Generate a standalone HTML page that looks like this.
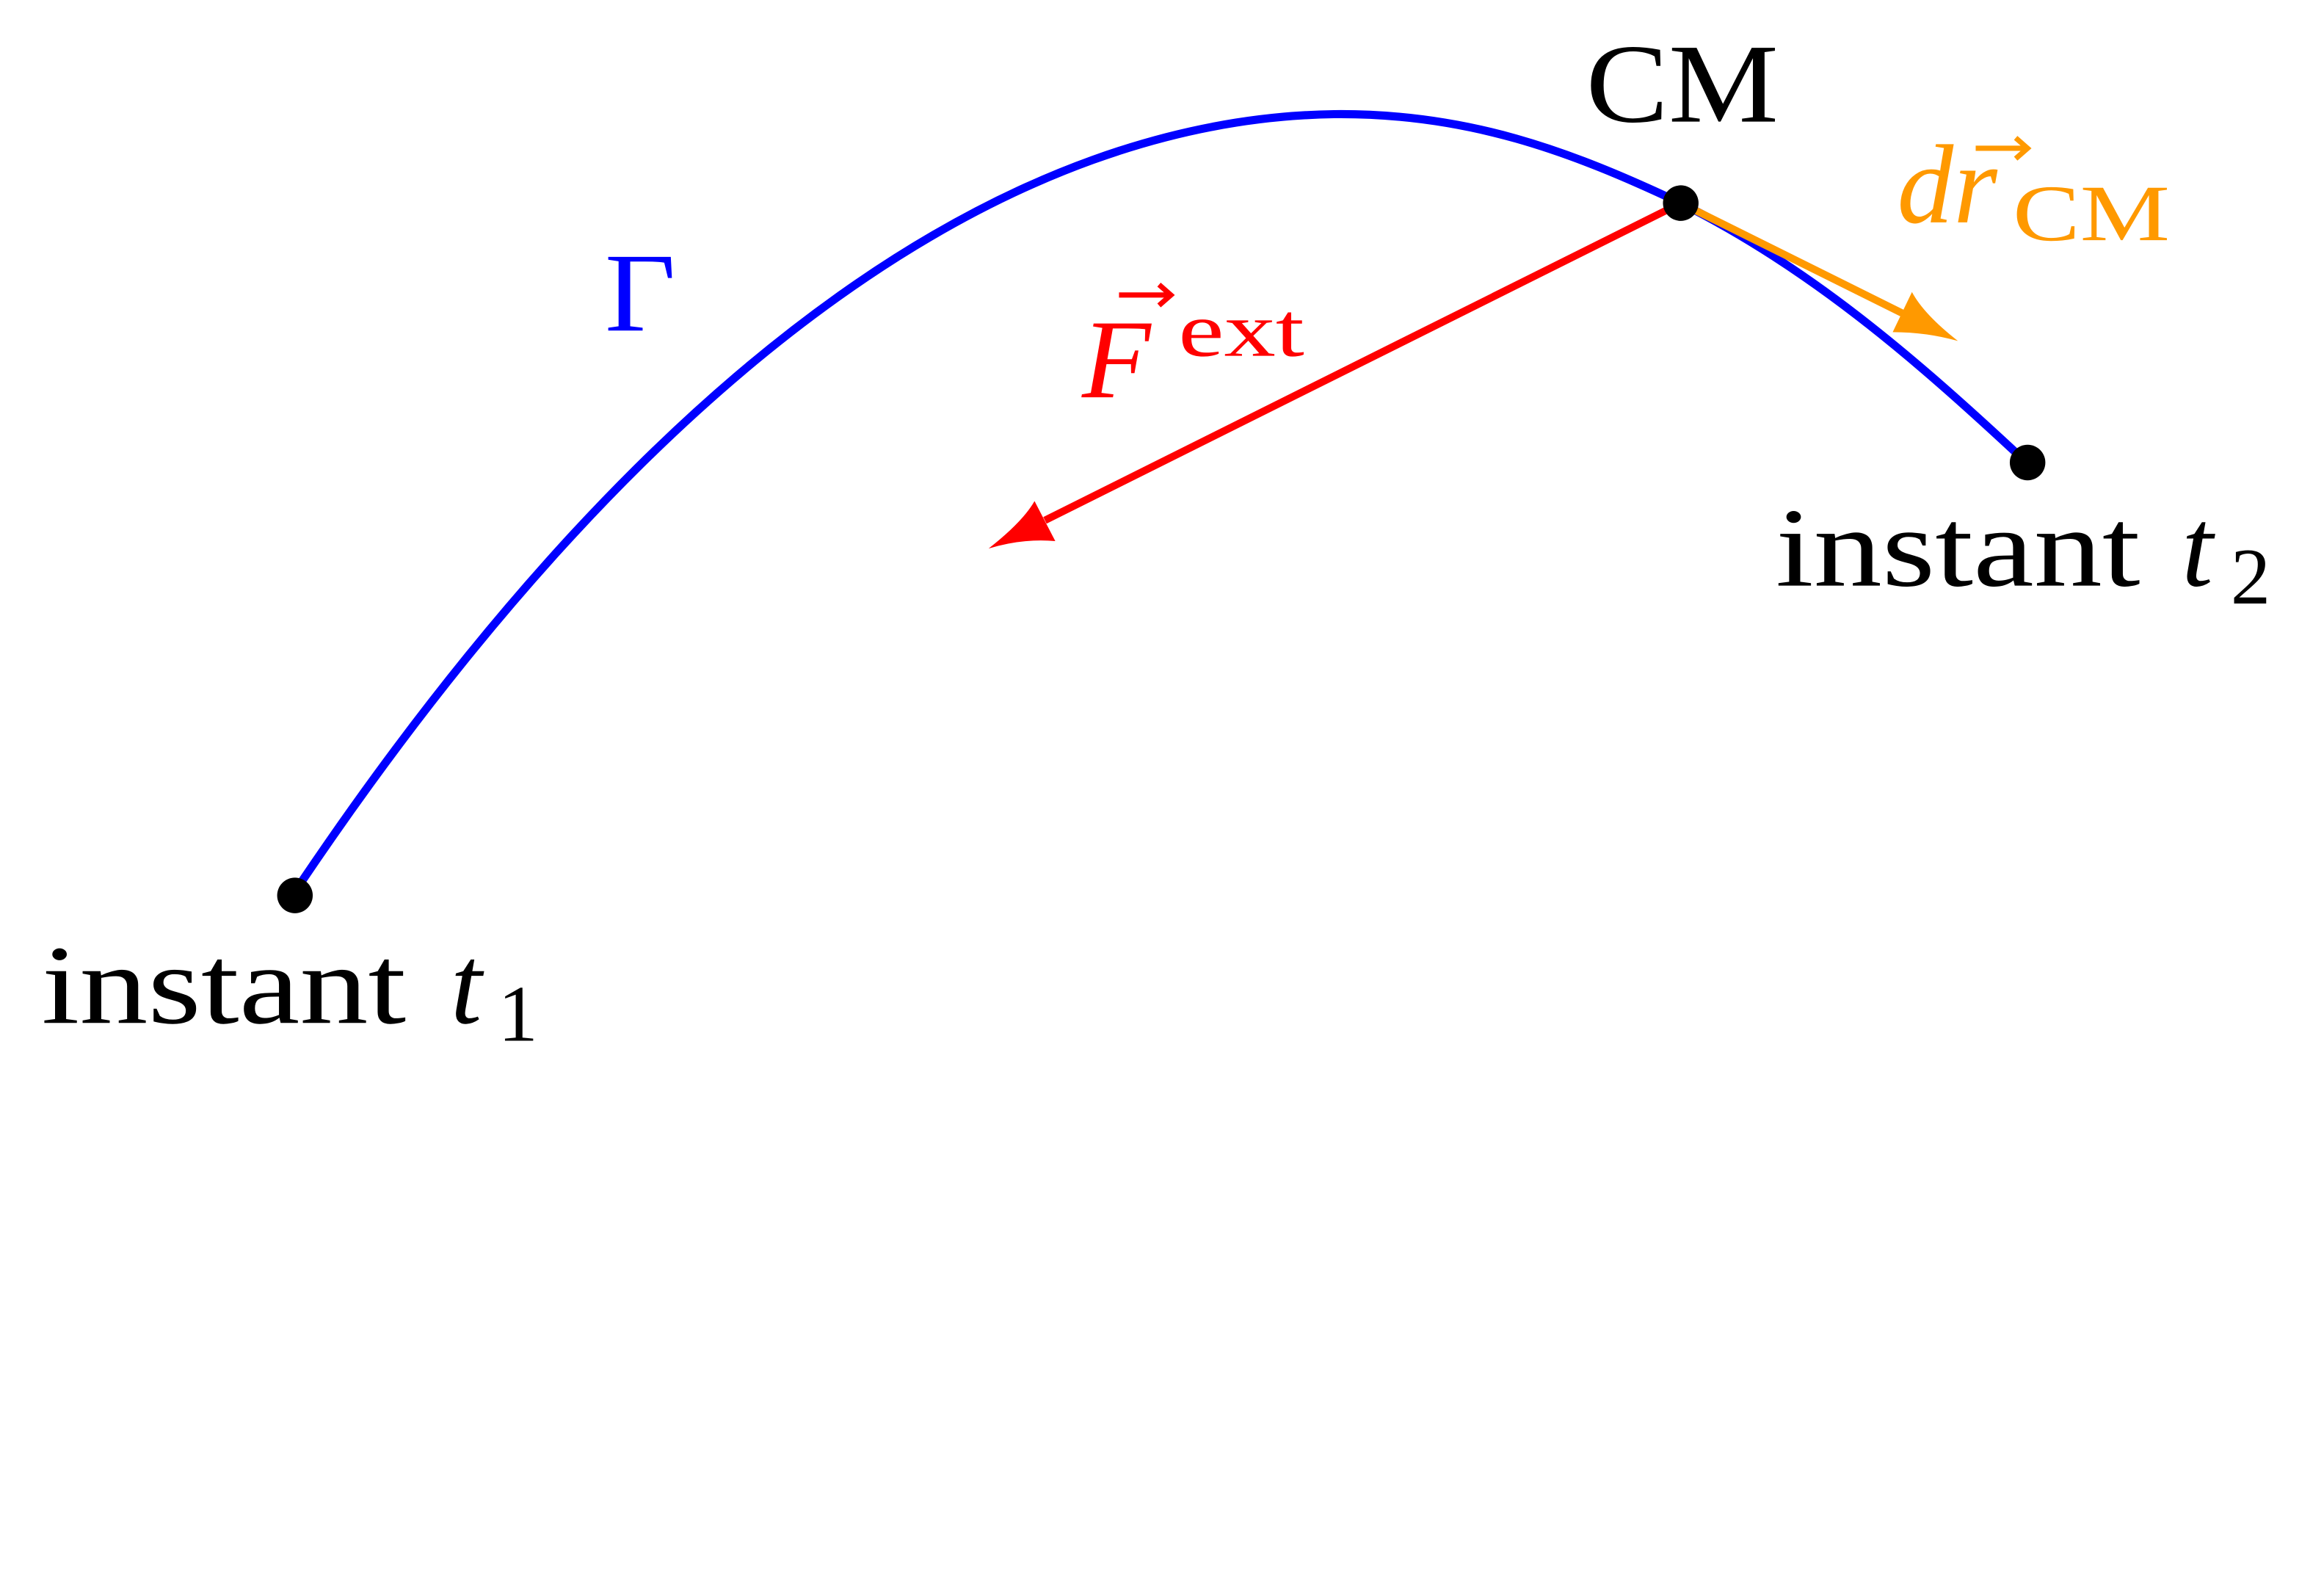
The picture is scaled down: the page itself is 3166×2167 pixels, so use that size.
<!DOCTYPE html>
<html><head><meta charset="utf-8"><style>
html,body{margin:0;padding:0;background:#fff;}
svg{display:block;}
text{font-family:"Liberation Serif",serif;}
</style></head><body>
<svg width="3166" height="2167" viewBox="0 0 1568 1073.2" xmlns="http://www.w3.org/2000/svg">
<rect width="1568" height="1073.2" fill="#fff"/>
<path d="M204,594 C450,230 690,80 900,77 C990,76 1060,102 1134,137 C1220,180 1290,240 1362,307" fill="none" stroke="#0000ff" stroke-width="5.5"/>
<line x1="1134" y1="137" x2="705" y2="351" stroke="#ff0000" stroke-width="5"/>
<path d="M667,370 Q690,352 698,338 L712,365 Q690,363 667,370 Z" fill="#ff0000"/>
<line x1="1134" y1="137" x2="1285" y2="212" stroke="#ff9900" stroke-width="5"/>
<path d="M1321,230 Q1298,212 1290,197 L1277,224 Q1300,224 1321,230 Z" fill="#ff9900"/>
<circle cx="199" cy="604" r="12" fill="#000"/>
<circle cx="1134" cy="137" r="12" fill="#000"/>
<circle cx="1368" cy="312" r="12" fill="#000"/>
<text x="408" y="223" font-size="76" fill="#0000ff" textLength="48" lengthAdjust="spacingAndGlyphs">Γ</text>
<text x="1070" y="82" font-size="76" fill="#000" textLength="130" lengthAdjust="spacingAndGlyphs">CM</text>
<text x="1198" y="395" font-size="76" fill="#000" textLength="246" lengthAdjust="spacingAndGlyphs">instant</text>
<text x="1472" y="395" font-size="76" fill="#000" font-style="italic">t</text>
<text x="1505" y="407" font-size="54" fill="#000">2</text>
<text x="28" y="690" font-size="76" fill="#000" textLength="246" lengthAdjust="spacingAndGlyphs">instant</text>
<text x="304" y="690" font-size="76" fill="#000" font-style="italic">t</text>
<text x="336" y="702" font-size="54" fill="#000">1</text>
<text x="730" y="268" font-size="76" fill="#ff0000" font-style="italic">F</text>
<text x="795" y="240" font-size="52" fill="#ff0000" textLength="85" lengthAdjust="spacingAndGlyphs">ext</text>
<path d="M755,199 L788,199 M782,192 L790,199 L782,206" stroke="#ff0000" stroke-width="3.5" fill="none"/>
<text x="1280" y="150" font-size="76" fill="#ff9900" font-style="italic">dr</text>
<text x="1358" y="162" font-size="54" fill="#ff9900" textLength="106" lengthAdjust="spacingAndGlyphs">CM</text>
<path d="M1333,100 L1366,100 M1360,93 L1368,100 L1360,107" stroke="#ff9900" stroke-width="3.5" fill="none"/>
</svg>
</body></html>
